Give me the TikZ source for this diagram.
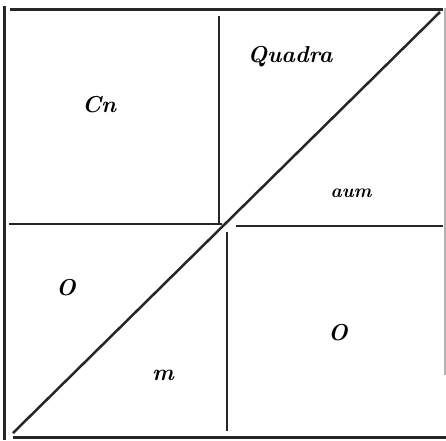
\documentclass[tikz,border=0pt]{standalone}
\begin{document}
\begin{tikzpicture}[
    x=1pt, y=-1pt,
    frame/.style={line width=3pt, draw=black!85},
    rule/.style={line width=2.5pt, draw=black!85},
    faint/.style={line width=1.2pt, draw=black!30},
    lbl/.style={font=\fontsize{23}{27}\selectfont\bfseries\itshape, inner sep=0pt}
]
    \useasboundingbox (0,0) rectangle (446,440);

    %------------------------------------------------
    % Rahmen
    %------------------------------------------------
    \draw[frame] (4.5,6) -- (4.5,440);
    \draw[frame] (10,9) -- (443,9);
    \draw[frame] (13,437.5) -- (446,437.5);
    \draw[faint] (445,8) -- (445,375);

    %------------------------------------------------
    % Teilung
    %------------------------------------------------
    \coordinate (tl) at (9,224);
    \coordinate (tm) at (222,224);
    \coordinate (ml) at (236,226);
    \coordinate (mr) at (443,226);
    \draw[rule] (tl) -- (tm);
    \draw[rule] (ml) -- (mr);

    \coordinate (vu1) at (219,16);
    \coordinate (vu2) at (219,224);
    \coordinate (vd1) at (227,232);
    \coordinate (vd2) at (227,431);
    \draw[rule] (vu1) -- (vu2);
    \draw[rule] (vd1) -- (vd2);

    % Diagonale
    \coordinate (dA) at (13,433);
    \coordinate (dB) at (440,12);
    \draw[rule] (dA) -- (dB);

    %------------------------------------------------
    % Beschriftung
    %------------------------------------------------
    \node[lbl] (quadra) at (290,57)  {Quadra};
    \node[lbl] (cn)     at (99,105)  {Cn};
    \node[lbl, font=\fontsize{19}{23}\selectfont\bfseries\itshape] (aum) at (351,193) {aum};
    \node[lbl] (o1)     at (66,288)  {O};
    \node[lbl] (o2)     at (338,333) {O};
    \node[lbl] (m)      at (163,375) {m};

\end{tikzpicture}
\end{document}
